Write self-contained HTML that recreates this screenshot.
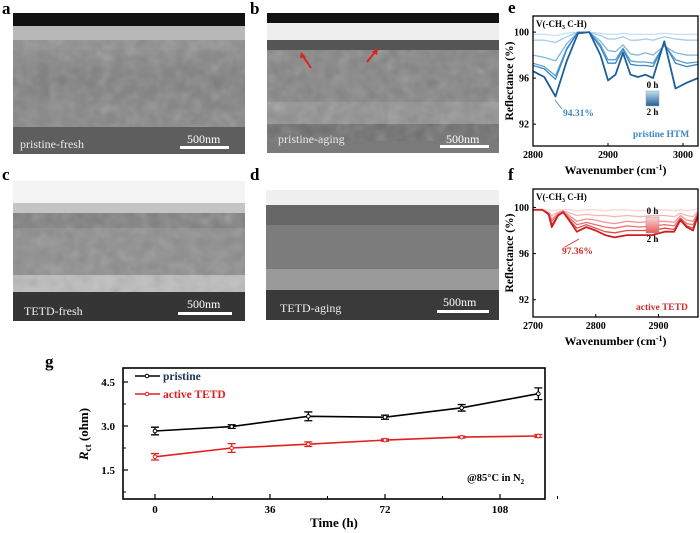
<!DOCTYPE html>
<html><head><meta charset="utf-8"><style>
body{margin:0;background:#fff;width:700px;height:533px;overflow:hidden;font-family:"Liberation Serif",serif;}
svg{display:block}
text{font-family:"Liberation Serif",serif;font-weight:bold}
</style></head><body>
<svg id="root" width="700" height="533" viewBox="0 0 700 533">
<defs>
<linearGradient id="gA" x1="0" y1="0" x2="0" y2="1"><stop offset="0" stop-color="#8a8a8a"/><stop offset="0.5" stop-color="#7c7c7c"/><stop offset="1" stop-color="#858585"/></linearGradient>
<linearGradient id="cbE" x1="0" y1="0" x2="0" y2="1"><stop offset="0" stop-color="#c6e0f2"/><stop offset="1" stop-color="#1f5f99"/></linearGradient>
<linearGradient id="cbF" x1="0" y1="0" x2="0" y2="1"><stop offset="0" stop-color="#fbd6d6"/><stop offset="1" stop-color="#ee5a5a"/></linearGradient>
<filter id="nz"><feTurbulence type="fractalNoise" baseFrequency="0.08" numOctaves="2" seed="3"/><feColorMatrix type="saturate" values="0"/><feComponentTransfer><feFuncA type="table" tableValues="0 0.35"/></feComponentTransfer><feComposite in2="SourceGraphic" operator="in"/></filter>
</defs>

<!-- Panel a -->
<g>
<text x="2" y="14" font-size="17">a</text>
<rect x="13" y="13" width="232" height="141" fill="#7a7a7a"/>
<rect x="13" y="13" width="232" height="13" fill="#111"/>
<rect x="13" y="26" width="232" height="14" fill="#b8b8b8"/>
<rect x="13" y="40" width="232" height="10" fill="#8e8e8e"/>
<rect x="13" y="50" width="232" height="60" fill="url(#gA)"/>
<rect x="13" y="110" width="232" height="17" fill="#858585"/>
<rect x="13" y="127" width="232" height="27" fill="#5e5e5e"/>
<rect x="13" y="40" width="232" height="87" fill="#999" filter="url(#nz)"/>
<text x="20" y="148" font-size="12" font-weight="normal" fill="#e8e8e8" style="font-weight:normal">pristine-fresh</text>
<text x="187" y="143" font-size="12" fill="#fff" style="font-weight:normal">500nm</text>
<rect x="180" y="146" width="49" height="3" fill="#fff"/>
</g>

<!-- Panel b -->
<g>
<text x="250" y="14" font-size="17">b</text>
<rect x="267" y="13" width="232" height="140" fill="#7e7e7e"/>
<rect x="267" y="13" width="232" height="10" fill="#111"/>
<rect x="267" y="23" width="232" height="17" fill="#eee"/>
<rect x="267" y="40" width="232" height="10" fill="#555"/>
<rect x="267" y="50" width="232" height="52" fill="#838383"/>
<rect x="267" y="102" width="232" height="22" fill="#909090"/>
<rect x="267" y="124" width="232" height="17" fill="#6c6c6c"/>
<rect x="267" y="141" width="232" height="12" fill="#7a7a7a"/>
<rect x="267" y="50" width="232" height="91" fill="#bbb" filter="url(#nz)"/>
<line x1="311" y1="68" x2="303" y2="56" stroke="#e0201e" stroke-width="2"/>
<polygon points="301,52 306,57 300,58" fill="#e0201e"/>
<line x1="367" y1="62" x2="375" y2="52" stroke="#e0201e" stroke-width="2"/>
<polygon points="378,48 377,55 372,52" fill="#e0201e"/>
<text x="278" y="143" font-size="12" fill="#e8e8e8" style="font-weight:normal">pristine-aging</text>
<text x="446" y="143" font-size="12" fill="#fff" style="font-weight:normal">500nm</text>
<rect x="440" y="145" width="49" height="3" fill="#fff"/>
</g>

<!-- Panel c -->
<g>
<text x="2" y="180" font-size="17">c</text>
<rect x="13" y="181" width="232" height="140" fill="#888"/>
<rect x="13" y="181" width="232" height="22" fill="#f4f4f4"/>
<rect x="13" y="203" width="232" height="10" fill="#c4c4c4"/>
<rect x="13" y="213" width="232" height="15" fill="#7e7e7e"/>
<rect x="13" y="228" width="232" height="47" fill="#8c8c8c"/>
<rect x="13" y="275" width="232" height="17" fill="#bcbcbc"/>
<rect x="13" y="292" width="232" height="29" fill="#353535"/>
<rect x="13" y="213" width="232" height="79" fill="#aaa" filter="url(#nz)"/>
<text x="24" y="315" font-size="12" fill="#eee" style="font-weight:normal">TETD-fresh</text>
<text x="187" y="308" font-size="12" fill="#fff" style="font-weight:normal">500nm</text>
<rect x="178" y="312" width="54" height="3" fill="#fff"/>
</g>

<!-- Panel d -->
<g>
<text x="250" y="180" font-size="17">d</text>
<rect x="266" y="190" width="233" height="130" fill="#7a7a7a"/>
<rect x="266" y="190" width="233" height="15" fill="#f0f0f0"/>
<rect x="266" y="205" width="233" height="20" fill="#676767"/>
<rect x="266" y="225" width="233" height="44" fill="#7c7c7c"/>
<rect x="266" y="269" width="233" height="21" fill="#9a9a9a"/>
<rect x="266" y="290" width="233" height="30" fill="#3a3a3a"/>
<text x="280" y="312" font-size="12" fill="#eee" style="font-weight:normal">TETD-aging</text>
<text x="443" y="306" font-size="12" fill="#fff" style="font-weight:normal">500nm</text>
<rect x="437" y="310" width="52" height="3" fill="#fff"/>
</g>

<g id="chartE"></g>
<g id="chartF"></g>
<g id="chartG"></g>
</svg>
<script>
const NS='http://www.w3.org/2000/svg';
function mk(p,tag,at,txt){const e=document.createElementNS(NS,tag);for(const k in at)e.setAttribute(k,at[k]);if(txt!==undefined)e.textContent=txt;p.appendChild(e);return e;}

// ---- Panel e data ----
const eWave=[2800,2815,2830,2845,2860,2875,2890,2900,2910,2920,2930,2940,2950,2960,2975,2990,3005,3020];
const eS0=[99.8,99.8,99.7,99.9,100,100,99.9,99.8,99.8,99.9,99.8,99.8,99.8,99.8,99.9,99.8,99.8,99.8];
const eS1=[99.3,99.3,99.1,99.6,100,100,99.7,99.4,99.4,99.6,99.3,99.3,99.4,99.3,99.6,99.4,99.3,99.3];
const eS2=[98.0,97.8,97.5,99.0,100,100,99.2,98.4,98.3,98.9,98.1,98.0,98.2,98.0,98.8,98.2,98.0,98.0];
const eS3=[97.3,97.0,96.2,98.6,100,100,98.9,97.6,97.6,98.6,97.5,97.4,97.4,97.3,98.9,97.6,97.3,97.4];
const eS4=[97.1,96.8,95.9,98.5,100,100,98.7,97.3,97.3,98.5,97.2,97.1,97.1,97.0,99.0,97.3,97.0,97.2];
const eS5=[96.6,96.1,94.4,97.5,99.9,100,98.0,95.8,96.3,98.2,96.3,96.1,96.3,96.0,99.2,95.1,95.6,96.0];
const eSeries=[eS0,eS1,eS2,eS3,eS4,eS5];
const eColors=['#c6e0f2','#a5cdeb','#7fb6df','#5aa0d2','#3a87c3','#1f5f99'];
const eXTicks=[2800,2900,3000];
const eYTicks=[92,96,100];

// ---- Panel f data ----
const fWave=[2700,2715,2725,2730,2740,2748,2760,2770,2785,2800,2815,2830,2850,2870,2890,2910,2925,2935,2945,2955,2963];
const fS0=[99.8,99.8,99.8,99.7,99.8,99.8,99.8,99.7,99.8,99.8,99.7,99.8,99.8,99.7,99.8,99.8,99.7,99.8,99.7,99.8,99.9];
const fS1=[99.8,99.8,99.6,99.3,99.6,99.7,99.5,99.3,99.4,99.3,99.3,99.2,99.3,99.2,99.3,99.3,99.2,99.5,99.3,99.2,99.7];
const fS2=[99.8,99.8,99.5,99.0,99.5,99.7,99.2,98.8,99.0,98.9,98.7,98.6,98.8,98.7,98.8,98.8,98.7,99.3,98.9,98.8,99.6];
const fS3=[99.8,99.8,99.5,98.8,99.4,99.6,99.0,98.5,98.7,98.5,98.3,98.2,98.4,98.3,98.4,98.5,98.4,99.1,98.6,98.5,99.5];
const fS4=[99.8,99.8,99.4,98.5,99.3,99.6,98.8,98.2,98.5,98.2,97.9,97.8,98.0,98.0,98.0,98.2,98.1,99.0,98.4,98.2,99.4];
const fS5=[99.8,99.8,99.4,98.3,99.3,99.6,98.7,97.9,98.3,98.0,97.6,97.4,97.6,97.6,97.6,97.9,97.9,98.9,98.3,98.0,99.3];
const fSeries=[fS0,fS1,fS2,fS3,fS4,fS5];
const fColors=['#fbd6d6','#f7b6b6','#f29494','#ec7070','#e24a4a','#cc1f1f'];
const fXTicks=[2700,2800,2900];
const fYTicks=[92,96,100];

// ---- Panel g data ----
const gTime=[0,24,48,72,96,120];
const gPristine=[2.83,2.98,3.33,3.30,3.62,4.10];
const gPristineErr=[0.13,0.06,0.15,0.07,0.11,0.2];
const gTetd=[1.95,2.25,2.38,2.52,2.62,2.66];
const gTetdErr=[0.11,0.15,0.08,0.04,0.03,0.05];
const gXTicks=[0,36,72,108];
const gYTicks=[1.5,3.0,4.5];

function specChart(gid,box,xDom,yDom,wave,series,colors,xT,yT,cfg){
  const g=document.getElementById(gid);
  const sx=v=>box.l+(v-xDom[0])/(xDom[1]-xDom[0])*(box.r-box.l);
  const sy=v=>box.b-(v-yDom[0])/(yDom[1]-yDom[0])*(box.b-box.t);
  const cp=mk(g,'clipPath',{id:gid+'clip'});mk(cp,'rect',{x:box.l,y:box.t,width:box.r-box.l,height:box.b-box.t});
  series.forEach((s,i)=>{
    const d=s.map((v,j)=>(j?'L':'M')+sx(wave[j]).toFixed(1)+','+sy(v).toFixed(1)).join(' ');
    const p=mk(g,'path',{d:d,fill:'none',stroke:colors[i],'stroke-width':i===series.length-1?1.8:1.3,'stroke-linejoin':'round','clip-path':'url(#'+gid+'clip)'});
    
    
  });
  const fr=mk(g,'rect',{x:box.l,y:box.t,width:box.r-box.l,height:box.b-box.t,fill:'none',stroke:'#000','stroke-width':1.3});
  
  
  xT.forEach(v=>{
    mk(g,'line',{x1:sx(v),x2:sx(v),y1:box.b,y2:box.b-3,stroke:'#000'});
    const t=mk(g,'text',{x:sx(v),y:box.b+12,'font-size':10,'text-anchor':'middle'},v);
    
    
  });
  yT.forEach(v=>{
    mk(g,'line',{x1:box.l,x2:box.l+3,y1:sy(v),y2:sy(v),stroke:'#000'});
    const t=mk(g,'text',{x:box.l-4,y:sy(v)+3.5,'font-size':10,'text-anchor':'end'},v);
    
    
  });
  const yl=mk(g,'text',{x:0,y:0,'font-size':11.5,'text-anchor':'middle',transform:`translate(${box.l-20},${(box.t+box.b)/2}) rotate(-90)`},'Reflectance (%)');
  
  
  const xl=mk(g,'text',{x:(box.l+box.r)/2,y:box.b+28,'font-size':12,'text-anchor':'middle'});
  
  
  xl.innerHTML='Wavenumber (cm<tspan dy="-4" font-size="8">-1</tspan><tspan dy="4">)</tspan>';
  const pl=mk(g,'text',{x:box.l-25,y:cfg.panelY,'font-size':17},cfg.panel);
  
  
  const vt=mk(g,'text',{x:box.l+3,y:box.t+11,'font-size':9});
  
  
  vt.innerHTML='V(-CH<tspan dy="2" font-size="6">3</tspan><tspan dy="-2"> C-H)</tspan>';
  const an=mk(g,'text',{x:cfg.ann[0],y:cfg.ann[1],'font-size':9.5,fill:cfg.annColor},cfg.annText);
  
  
  mk(g,'line',{x1:cfg.arr[0],y1:cfg.arr[1],x2:cfg.arr[2],y2:cfg.arr[3],stroke:cfg.annColor,'stroke-width':0.8});
  const nm=mk(g,'text',{x:cfg.name[0],y:cfg.name[1],'font-size':9.5,fill:cfg.annColor},cfg.nameText);
  
  
  const cb=mk(g,'rect',{x:cfg.cb[0],y:cfg.cb[1],width:13,height:cfg.cb[2],fill:cfg.cbFill,stroke:'#999','stroke-width':0.5});
  
  
  mk(g,'text',{x:cfg.cb[0]+6.5,y:cfg.cb[1]-3,'font-size':9,'text-anchor':'middle'},'0 h');
  mk(g,'text',{x:cfg.cb[0]+6.5,y:cfg.cb[1]+cfg.cb[2]+9,'font-size':9,'text-anchor':'middle'},'2 h');
}
specChart('chartE',{l:533,r:698,t:16,b:146},[2800,3020],[90.1,101.4],eWave,eSeries,eColors,eXTicks,eYTicks,
 {panel:'e',panelY:13,ann:[563,116],annColor:'#3a87c3',annText:'94.31%',arr:[562,109,555,100],name:[633,137],nameText:'pristine HTM',cb:[646,91,15],cbFill:'url(#cbE)'});
specChart('chartF',{l:533,r:698,t:189,b:317},[2700,2963],[90.5,101.6],fWave,fSeries,fColors,fXTicks,fYTicks,
 {panel:'f',panelY:180,ann:[562,254],annColor:'#d42a2a',annText:'97.36%',arr:[565,247,579,239],name:[636,310],nameText:'active TETD',cb:[646,217,16],cbFill:'url(#cbF)'});

// ---- Chart g ----
(function(){
  const g=document.getElementById('chartG');
  const L=123,R=545,T=368,B=499;
  const sx=v=>155+v*(385-155)/72;
  const sy=v=>470-(v-1.5)*(470-382)/3.0;
  const fr=mk(g,'rect',{x:L,y:T,width:R-L,height:B-T,fill:'none',stroke:'#000','stroke-width':1.6});
  
  
  gXTicks.forEach(v=>{
    mk(g,'line',{x1:sx(v),x2:sx(v),y1:B,y2:B-5,stroke:'#000','stroke-width':1.2});
    mk(g,'line',{x1:sx(v+18),x2:sx(v+18),y1:B,y2:B-3,stroke:'#000','stroke-width':1});
    const t=mk(g,'text',{x:sx(v),y:B+14,'font-size':11,'text-anchor':'middle'},v);
    
    
  });
  gYTicks.forEach(v=>{
    mk(g,'line',{x1:L,x2:L+5,y1:sy(v),y2:sy(v),stroke:'#000','stroke-width':1.2});
    mk(g,'line',{x1:L,x2:L+3,y1:sy(v-0.75),y2:sy(v-0.75),stroke:'#000','stroke-width':1});
    const t=mk(g,'text',{x:L-8,y:sy(v)+4,'font-size':11,'text-anchor':'end'},v.toFixed(1));
    
    
  });
  mk(g,'line',{x1:L,x2:L+3,y1:sy(3.75),y2:sy(3.75),stroke:'#000'});
  function series(vals,errs,color,name){
    const d=vals.map((v,i)=>(i?'L':'M')+sx(gTime[i]).toFixed(1)+','+sy(v).toFixed(1)).join(' ');
    const p=mk(g,'path',{d:d,fill:'none',stroke:color,'stroke-width':1.6});
    
    
    vals.forEach((v,i)=>{
      const x=sx(gTime[i]),y1=sy(v+errs[i]),y2=sy(v-errs[i]);
      const eb=mk(g,'path',{d:`M${x},${y1}V${y2}M${x-4},${y1}H${x+4}M${x-4},${y2}H${x+4}`,stroke:color,'stroke-width':1.3,fill:'none'});
      
      
      const c=mk(g,'circle',{cx:x,cy:sy(v),r:1.8,fill:'#fff',stroke:color,'stroke-width':1});
      
      
    });
  }
  series(gPristine,gPristineErr,'#000','pristine');
  series(gTetd,gTetdErr,'#e0201e','tetd');
  // legend
  mk(g,'line',{x1:135,x2:160,y1:376,y2:376,stroke:'#000','stroke-width':1.6});
  mk(g,'circle',{cx:147,cy:376,r:1.8,fill:'#fff',stroke:'#000'});
  const l1=mk(g,'text',{x:163,y:380,'font-size':11.5,fill:'#1c3250'},'pristine');
  
  
  mk(g,'line',{x1:135,x2:160,y1:394,y2:394,stroke:'#e0201e','stroke-width':1.6});
  mk(g,'circle',{cx:147,cy:394,r:1.8,fill:'#fff',stroke:'#e0201e'});
  const l2=mk(g,'text',{x:163,y:398,'font-size':11.5,fill:'#e0201e'},'active TETD');
  
  
  const cond=mk(g,'text',{x:467,y:481,'font-size':10.5});
  
  
  cond.innerHTML='@85°C in N<tspan dy="3" font-size="7">2</tspan>';
  const yl=mk(g,'text',{x:0,y:0,'font-size':13,'text-anchor':'middle',transform:'translate(88,434) rotate(-90)'});
  
  
  yl.innerHTML='<tspan font-style="italic">R</tspan><tspan dy="3" font-size="9">ct</tspan><tspan dy="-3"> (ohm)</tspan>';
  const xl=mk(g,'text',{x:334,y:527,'font-size':13,'text-anchor':'middle'},'Time (h)');
  
  
  const pl=mk(g,'text',{x:45,y:367,'font-size':17},'g');
  
  
})();
</script>
</body></html>
